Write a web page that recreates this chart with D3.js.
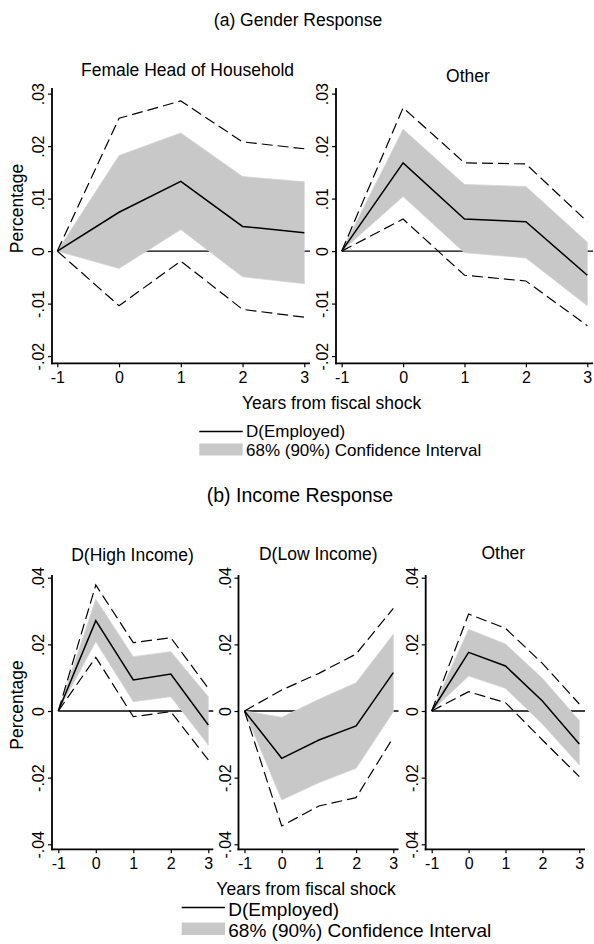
<!DOCTYPE html>
<html>
<head>
<meta charset="utf-8">
<script src="https://cdn.jsdelivr.net/npm/d3@7"></script>
<style>
  html, body { margin: 0; padding: 0; background: #fff; }
  svg { display: block; font-family: "Liberation Sans", Arial, Helvetica, sans-serif; }
</style>
</head>
<body>
<svg id="chart" width="594" height="944"></svg>
<script>
// ---------- DATA ----------
const years = [-1, 0, 1, 2, 3];
const xTickLabels = ["-1", "0", "1", "2", "3"];

const gTicks = [0.03, 0.02, 0.01, 0, -0.01, -0.02];
const gTickLabels = [".03", ".02", ".01", "0", "-.01", "-.02"];
const iTicks = [0.04, 0.02, 0, -0.02, -0.04];
const iTickLabels = [".04", ".02", "0", "-.02", "-.04"];

// (a) Gender: Female Head of Household
const femaleEst    = [0, 0.0074, 0.0133, 0.0047, 0.0035];
const femaleBandHi = [0, 0.0182, 0.0225, 0.0142, 0.0132];
const femaleBandLo = [0, -0.0033, 0.0041, -0.0049, -0.0062];
const femaleCIHi   = [0, 0.0253, 0.0286, 0.0208, 0.0195];
const femaleCILo   = [0, -0.0104, -0.0019, -0.0111, -0.0126];

// (a) Gender: Other
const otherGEst    = [0, 0.0168, 0.0061, 0.0056, -0.0046];
const otherGBandHi = [0, 0.0232, 0.0127, 0.0123, 0.0017];
const otherGBandLo = [0, 0.0104, -0.0003, -0.0013, -0.0104];
const otherGCIHi   = [0, 0.0273, 0.0168, 0.0166, 0.0056];
const otherGCILo   = [0, 0.0061, -0.0046, -0.0057, -0.0142];

// (b) Income: D(High Income)
const highEst    = [0, 0.0271, 0.0093, 0.0111, -0.0042];
const highBandHi = [0, 0.0335, 0.0163, 0.0178, 0.0043];
const highBandLo = [0, 0.0208, 0.0028, 0.0043, -0.0102];
const highCIHi   = [0, 0.0378, 0.0205, 0.0220, 0.0068];
const highCILo   = [0, 0.0161, -0.0017, -0.0002, -0.0147];

// (b) Income: D(Low Income)
const lowEst    = [0, -0.0142, -0.0087, -0.0045, 0.0115];
const lowBandHi = [0, -0.0019, 0.0035, 0.0085, 0.0230];
const lowBandLo = [0, -0.0267, -0.0215, -0.0172, -0.0002];
const lowCIHi   = [0, 0.0063, 0.0113, 0.0171, 0.0308];
const lowCILo   = [0, -0.0345, -0.0285, -0.0260, -0.0079];

// (b) Income: Other
const otherIEst    = [0, 0.0176, 0.0135, 0.0030, -0.0099];
const otherIBandHi = [0, 0.0245, 0.0201, 0.0098, -0.0029];
const otherIBandLo = [0, 0.0105, 0.0068, -0.0039, -0.0162];
const otherICIHi   = [0, 0.0291, 0.0248, 0.0143, 0.0021];
const otherICILo   = [0, 0.0058, 0.0025, -0.0087, -0.0197];

const sectionTitles = ["(a) Gender Response", "(b) Income Response"];
const xTitle = "Years from fiscal shock";
const yTitle = "Percentage";
const legendLabels = ["D(Employed)", "68% (90%) Confidence Interval"];

// ---------- DRAW ----------
const svg = d3.select("#chart");
const BAND = "#c8c8c8";

function panel(cfg) {
  const g = svg.append("g");
  const x = d3.scaleLinear().domain([-1, 3]).range([cfg.xa, cfg.xb]);
  const y = d3.scaleLinear().domain(cfg.yDomain).range(cfg.yRange);
  const pts = (arr) => years.map((yr, i) => [yr, arr[i]]);

  // zero reference line
  g.append("line")
    .attr("x1", x(-1)).attr("x2", cfg.right)
    .attr("y1", y(0)).attr("y2", y(0))
    .attr("stroke", "#000").attr("stroke-width", 1.3);

  // band
  const area = d3.area()
    .x((d, i) => x(years[i]))
    .y0((d, i) => y(cfg.lo[i]))
    .y1((d, i) => y(cfg.hi[i]));
  g.append("path").datum(cfg.hi).attr("d", area)
    .attr("fill", BAND).attr("stroke", "#d4d4d4").attr("stroke-width", 0.8);

  const line = d3.line().x(d => x(d[0])).y(d => y(d[1]));
  [cfg.ciHi, cfg.ciLo].forEach(arr => {
    g.append("path").datum(pts(arr)).attr("d", line)
      .attr("fill", "none").attr("stroke", "#000").attr("stroke-width", 1.2)
      .attr("stroke-dasharray", "11,5");
  });
  g.append("path").datum(pts(cfg.est)).attr("d", line)
    .attr("fill", "none").attr("stroke", "#000").attr("stroke-width", 1.5);

  // axes
  const xAxis = d3.axisBottom(x).tickValues(years)
    .tickFormat((d, i) => xTickLabels[i]).tickSize(4).tickSizeOuter(0);
  const xa = g.append("g").attr("transform", `translate(0,${cfg.bottom})`).call(xAxis);
  xa.select(".domain").remove();
  xa.selectAll(".tick line").attr("stroke-width", 1.2);
  xa.selectAll(".tick text").attr("y", 20).attr("dy", null)
    .attr("font-size", 16).attr("font-family", null).attr("fill", "#000");

  const yAxis = d3.axisLeft(y).tickValues(cfg.ticks)
    .tickFormat((d, i) => cfg.tickLabels[i]).tickSize(4).tickSizeOuter(0);
  const ya = g.append("g").attr("transform", `translate(${cfg.axisX},0)`).call(yAxis);
  ya.select(".domain").remove();
  ya.selectAll(".tick line").attr("stroke-width", 1.2);
  ya.selectAll(".tick text").attr("x", null).attr("dy", null)
    .attr("text-anchor", "middle").attr("transform", "translate(-8,0) rotate(-90)")
    .attr("font-size", 16).attr("font-family", null).attr("fill", "#000");

  // axis lines
  g.append("line").attr("x1", cfg.axisX).attr("x2", cfg.axisX)
    .attr("y1", cfg.top).attr("y2", cfg.bottom + 1)
    .attr("stroke", "#000").attr("stroke-width", 1.8);
  g.append("line").attr("x1", cfg.axisX - 1).attr("x2", cfg.right)
    .attr("y1", cfg.bottom).attr("y2", cfg.bottom)
    .attr("stroke", "#000").attr("stroke-width", 1.8);

  // title
  g.append("text").attr("x", cfg.titleX).attr("y", cfg.titleY)
    .attr("text-anchor", "middle").attr("font-size", 17.5).text(cfg.title);
}

const gDom = [-0.02, 0.03], gRange = [356.1, 93.6];
const iDom = [-0.04, 0.04], iRange = [844.3, 577.7];

panel({ title: "Female Head of Household", titleX: 187.5, titleY: 76,
  axisX: 52, xa: 57.3, xb: 304.3, right: 310, top: 88, bottom: 363.3,
  yDomain: gDom, yRange: gRange, ticks: gTicks, tickLabels: gTickLabels,
  est: femaleEst, hi: femaleBandHi, lo: femaleBandLo, ciHi: femaleCIHi, ciLo: femaleCILo });
panel({ title: "Other", titleX: 468, titleY: 81.5,
  axisX: 336, xa: 341.7, xb: 587.3, right: 593, top: 88, bottom: 363.3,
  yDomain: gDom, yRange: gRange, ticks: gTicks, tickLabels: gTickLabels,
  est: otherGEst, hi: otherGBandHi, lo: otherGBandLo, ciHi: otherGCIHi, ciLo: otherGCILo });

panel({ title: "D(High Income)", titleX: 132.5, titleY: 560.5,
  axisX: 52, xa: 58.3, xb: 208.3, right: 213.3, top: 575, bottom: 849.3,
  yDomain: iDom, yRange: iRange, ticks: iTicks, tickLabels: iTickLabels,
  est: highEst, hi: highBandHi, lo: highBandLo, ciHi: highCIHi, ciLo: highCILo });
panel({ title: "D(Low Income)", titleX: 318.3, titleY: 559.5,
  axisX: 238.5, xa: 244.5, xb: 393.3, right: 398.5, top: 575, bottom: 849.3,
  yDomain: iDom, yRange: iRange, ticks: iTicks, tickLabels: iTickLabels,
  est: lowEst, hi: lowBandHi, lo: lowBandLo, ciHi: lowCIHi, ciLo: lowCILo });
panel({ title: "Other", titleX: 503.3, titleY: 559,
  axisX: 425.7, xa: 431.7, xb: 579.3, right: 585, top: 575, bottom: 849.3,
  yDomain: iDom, yRange: iRange, ticks: iTicks, tickLabels: iTickLabels,
  est: otherIEst, hi: otherIBandHi, lo: otherIBandLo, ciHi: otherICIHi, ciLo: otherICILo });

// section titles
svg.append("text").attr("x", 298).attr("y", 26).attr("text-anchor", "middle")
  .attr("font-size", 17.5).text(sectionTitles[0]);
svg.append("text").attr("x", 300).attr("y", 502).attr("text-anchor", "middle")
  .attr("font-size", 19.5).text(sectionTitles[1]);

// axis titles
svg.append("text").attr("x", 331.7).attr("y", 409).attr("text-anchor", "middle")
  .attr("font-size", 17.5).text(xTitle);
svg.append("text").attr("x", 306).attr("y", 894.5).attr("text-anchor", "middle")
  .attr("font-size", 17.5).text(xTitle);
svg.append("text").attr("transform", "translate(22.5,208.5) rotate(-90)")
  .attr("text-anchor", "middle").attr("font-size", 17.5).text(yTitle);
svg.append("text").attr("transform", "translate(22.5,705) rotate(-90)")
  .attr("text-anchor", "middle").attr("font-size", 17.5).text(yTitle);

// legends
function legend(x0, x1, lineY, rectY, rectH, textX, b1, b2, fs) {
  svg.append("line").attr("x1", x0).attr("x2", x1).attr("y1", lineY).attr("y2", lineY)
    .attr("stroke", "#000").attr("stroke-width", 1.5);
  svg.append("rect").attr("x", x0).attr("y", rectY).attr("width", x1 - x0).attr("height", rectH)
    .attr("fill", BAND);
  svg.append("text").attr("x", textX).attr("y", b1).attr("font-size", fs).text(legendLabels[0]);
  svg.append("text").attr("x", textX).attr("y", b2).attr("font-size", fs).text(legendLabels[1]);
}
legend(199.3, 242.7, 431.5, 443.5, 12, 246, 436.5, 456, 17);
legend(181.7, 225, 907.5, 922.5, 12.5, 228.3, 915.5, 936.5, 19);
</script>
</body>
</html>
